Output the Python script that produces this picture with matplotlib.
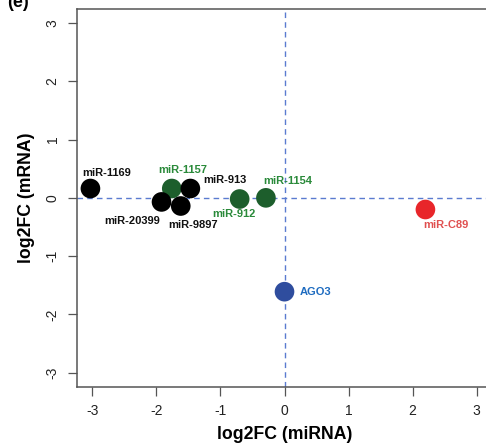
import matplotlib
matplotlib.use("Agg")
import matplotlib.pyplot as plt

plt.rcParams['font.family'] = ['Liberation Sans', 'DejaVu Sans']
plt.rcParams['axes.unicode_minus'] = False

# data: log2 fold changes
names = ['miR-1169', 'miR-1157', 'miR-913', 'miR-20399', 'miR-9897',
         'miR-912', 'miR-1154', 'AGO3', 'miR-C89']
mirna_fc = [-3.03, -1.76, -1.47, -1.92, -1.62, -0.70, -0.29, 0.0, 2.20]
mrna_fc = [0.16, 0.16, 0.16, -0.07, -0.14, -0.02, 0.0, -1.61, -0.20]
groups = ['black', 'green', 'black', 'black', 'black', 'green', 'green', 'blue', 'red']

point_col = {'black': '#000000', 'green': '#1d5e2c', 'blue': '#2f4d9e', 'red': '#e8262a'}
text_col = {'black': '#111111', 'green': '#2a8a3a', 'blue': '#1f6cc0', 'red': '#e05050'}

# label offsets in points (dx, dy, ha)
offsets = {
    'miR-1169': (12, 11, 'center'),
    'miR-1157': (8, 13, 'center'),
    'miR-913': (9, 6, 'left'),
    'miR-20399': (-21, -14, 'center'),
    'miR-9897': (9, -14, 'center'),
    'miR-912': (-4, -11, 'center'),
    'miR-1154': (16, 12, 'center'),
    'AGO3': (11, 0, 'left'),
    'miR-C89': (15, -11, 'center'),
}

fig = plt.figure(figsize=(4.86, 4.47), dpi=100)
ax = fig.add_axes([0.1584, 0.1349, 0.854, 0.845])

ax.axhline(0, color='#5b7bd0', ls=(0, (4, 3)), lw=1.0, zorder=1)
ax.axvline(0, color='#5b7bd0', ls=(0, (4, 3)), lw=1.0, zorder=1)

ax.scatter(mirna_fc, mrna_fc, s=200, c=[point_col[g] for g in groups],
           edgecolors='none', zorder=3)

for n, x, y, g in zip(names, mirna_fc, mrna_fc, groups):
    dx, dy, ha = offsets[n]
    ax.annotate(n, (x, y), xytext=(dx, dy), textcoords='offset points',
                ha=ha, va='center', fontsize=8, fontweight='bold',
                color=text_col[g], zorder=4)

ax.set_xlim(-3.24, 3.24)
ax.set_ylim(-3.24, 3.24)
ax.set_xticks(range(-3, 4))
ax.set_yticks(range(-3, 4))
ax.set_yticklabels([str(v) for v in range(-3, 4)], rotation=90, va='center')
ax.tick_params(length=6.5, width=0.9, color='#555555', labelsize=10,
               labelcolor='#222222', pad=6)
for sp in ax.spines.values():
    sp.set_color('#555555')
    sp.set_linewidth(1.1)

ax.set_xlabel('log2FC (miRNA)', fontsize=12.7, fontweight='bold', labelpad=6)
ax.set_ylabel('log2FC (mRNA)', fontsize=12.7, fontweight='bold', labelpad=8)

fig.text(0.015, 0.995, '(e)', fontsize=13, fontweight='bold', va='center', ha='left')

fig.savefig('out.png', dpi=100)
